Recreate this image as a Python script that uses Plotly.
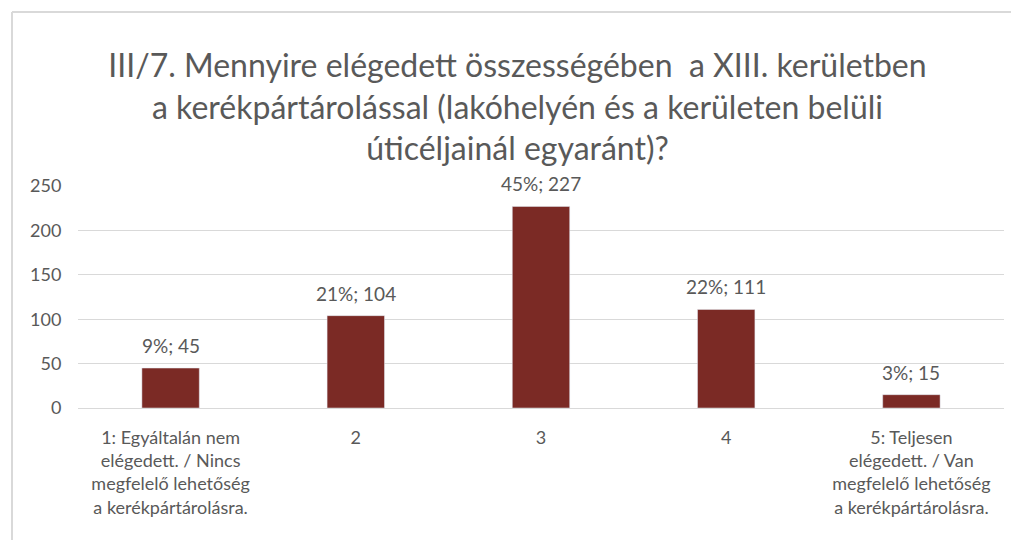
import plotly.graph_objects as go

categories = [
    "1: Egyáltalán nem<br>elégedett. / Nincs<br>megfelelő lehetőség<br>a kerékpártárolásra.",
    "2",
    "3",
    "4",
    "5: Teljesen<br>elégedett. / Van<br>megfelelő lehetőség<br>a kerékpártárolásra.",
]
counts = [45, 104, 227, 111, 15]
percents = ["9%", "21%", "45%", "22%", "3%"]
y_ticks = [0, 50, 100, 150, 200, 250]

title_text = ("III/7. Mennyire elégedett összességében  a XIII. kerületben<br>"
              "a kerékpártárolással (lakóhelyén és a kerületen belüli<br>"
              "úticéljainál egyaránt)?")

FONT = "Lato"
GRAY = "#595959"
BAR = "#7b2a25"

fig = go.Figure()
fig.add_trace(go.Bar(
    x=list(range(len(categories))), y=counts, marker_color=BAR, width=0.31,
    hoverinfo="skip",
))

for i, (v, p) in enumerate(zip(counts, percents)):
    fig.add_annotation(
        x=i, y=v, text=f"{p}; {v}", showarrow=False,
        yanchor="bottom", yshift=9,
        font=dict(family=FONT, size=19, color=GRAY),
    )

fig.update_layout(
    width=1019, height=540,
    margin=dict(l=70, r=23, t=178, b=140, autoexpand=False),
    paper_bgcolor="white", plot_bgcolor="white",
    showlegend=False,
    title=dict(
        text=title_text, x=0.5, xanchor="center",
        y=1 - 69 / 540, yanchor="top", automargin=False,
        font=dict(family=FONT, size=32, color=GRAY),
    ),
    font=dict(family=FONT, color=GRAY),
)

fig.update_xaxes(
    tickvals=list(range(len(categories))), ticktext=categories,
    showgrid=False, showline=True, linecolor="#d9d9d9", automargin=False,
    linewidth=1, ticks="outside", ticklen=13, tickcolor="rgba(0,0,0,0)",
    tickfont=dict(family=FONT, size=18, color=GRAY),
    range=[-0.5, 4.5], zeroline=False,
)
fig.update_yaxes(
    range=[0, 250], tickvals=y_ticks, showgrid=True, gridcolor="#d9d9d9",
    gridwidth=1, zeroline=False, showline=False, automargin=False,
    ticks="outside", ticklen=12, tickcolor="rgba(0,0,0,0)",
    tickfont=dict(family=FONT, size=18, color=GRAY),
)

# frame borders of the original chart area
fig.add_shape(type="line", xref="paper", yref="paper",
              x0=-66 / 926, x1=1.03, y0=1 + 174 / 222, y1=1 + 174 / 222,
              line=dict(color="#d9d9d9", width=2))
fig.add_shape(type="line", xref="paper", yref="paper",
              x0=-66 / 926, x1=-66 / 926, y0=1 + 174 / 222, y1=-140 / 222,
              line=dict(color="#d9d9d9", width=2))

fig.write_html("out.html")
